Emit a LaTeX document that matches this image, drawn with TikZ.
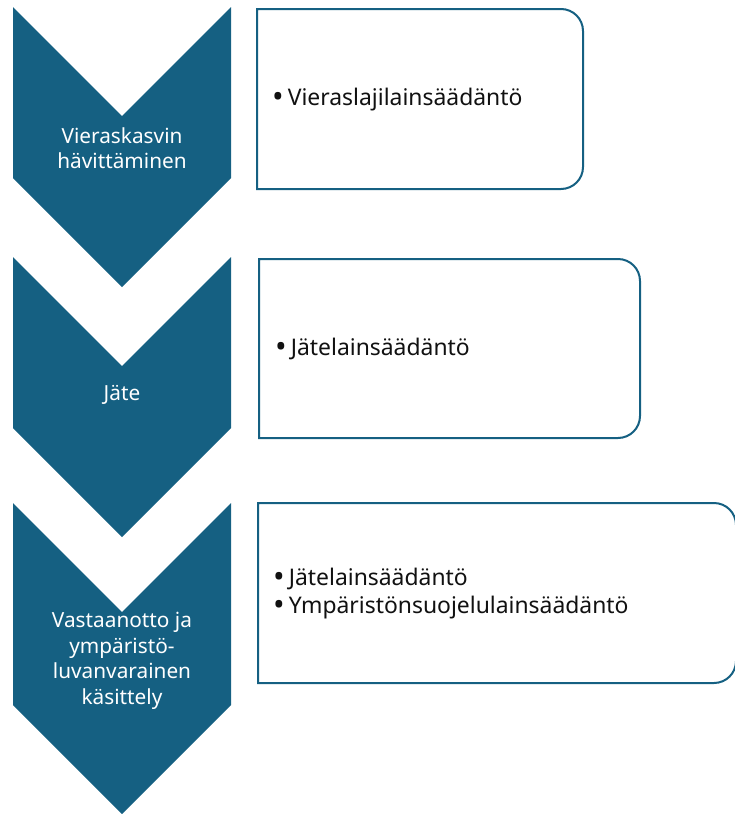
\documentclass[tikz,border=0pt]{standalone}
\usepackage{fontspec}
\usepackage{graphicx}
\setmainfont{Noto Sans}
\definecolor{accent}{HTML}{156082}
\definecolor{bodytext}{HTML}{111111}
\newcommand\rframe[1]{%
  \draw[boxframe] (#1.north west) -- ([xshift=-22pt]#1.north east)
    arc[start angle=90,end angle=0,radius=22pt]
    -- ([yshift=22pt]#1.south east)
    arc[start angle=0,end angle=-90,radius=22pt]
    -- (#1.south west) -- cycle;}
\newcommand\bigbul{\raisebox{-2.4pt}{\scalebox{1.35}{•}}\hspace{4pt}}
\begin{document}
\begin{tikzpicture}[x=1pt,y=1pt,
  chev/.style={fill=accent},
  chevtext/.style={text=white, align=center, font=\fontsize{20.8}{25.5}\selectfont, inner sep=0pt},
  boxframe/.style={draw=accent, line width=2pt, fill=white, line join=miter},
  boxarea/.style={inner sep=0pt, outer sep=0pt},
  bullettext/.style={anchor=base west, inner sep=0pt, font=\fontsize{22.9}{28}\selectfont, text=bodytext}
]
\useasboundingbox (0,0) rectangle (734,-814);

% chevrons
\fill[chev] (13,-7) -- (122,-116) -- (231,-7) -- (231,-178) -- (122,-287) -- (13,-178) -- cycle;
\fill[chev] (13,-257) -- (122,-366) -- (231,-257) -- (231,-428) -- (122,-537) -- (13,-428) -- cycle;
\fill[chev] (13,-503) -- (122,-612) -- (231,-503) -- (231,-705) -- (122,-814) -- (13,-705) -- cycle;

\node[chevtext] (c1) at (122,-148) {Vieraskasvin\\hävittäminen};
\node[chevtext] (c2) at (122,-395) {Jäte};
\node[chevtext] (c3) at (122,-661) {Vastaanotto ja\\ympäristö-\\luvanvarainen\\käsittely};

% boxes
\node[boxarea, minimum width=326pt, minimum height=180pt] (b1) at (420,-99) {};
\node[boxarea, minimum width=381pt, minimum height=179pt] (b2) at (449.5,-348.5) {};
\node[boxarea, minimum width=478pt, minimum height=180pt] (b3) at (497,-593) {};
\rframe{b1}
\rframe{b2}
\rframe{b3}

\node[bullettext] (t1) at (272,-105) {\bigbul Vieraslajilainsäädäntö};
\node[bullettext] (t2) at (275,-355) {\bigbul Jätelainsäädäntö};
\node[bullettext] (t3a) at (273,-585) {\bigbul Jätelainsäädäntö};
\node[bullettext] (t3b) at (273,-613) {\bigbul Ympäristönsuojelulainsäädäntö};
\end{tikzpicture}
\end{document}
